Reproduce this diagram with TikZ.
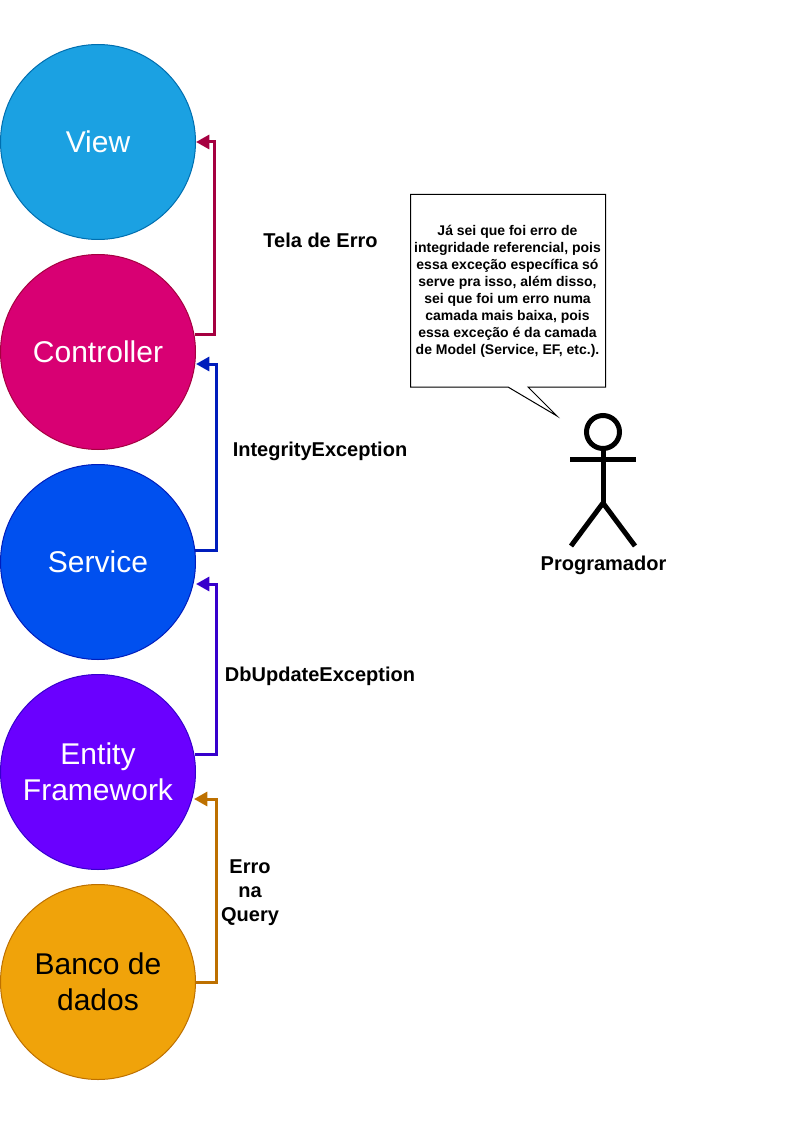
\documentclass[tikz,border=0pt]{standalone}
\usepackage{fontspec}
\setmainfont{Liberation Sans}
\usetikzlibrary{arrows.meta}
\definecolor{cView}{HTML}{1BA1E2}\definecolor{sView}{HTML}{006EAF}
\definecolor{cCtrl}{HTML}{D80073}\definecolor{sCtrl}{HTML}{A50040}
\definecolor{cServ}{HTML}{0050EF}\definecolor{sServ}{HTML}{001DBC}
\definecolor{cEf}{HTML}{6A00FF}\definecolor{sEf}{HTML}{3700CC}
\definecolor{cDb}{HTML}{F0A30A}\definecolor{sDb}{HTML}{BD7000}
\tikzset{
  layer/.style={circle,inner sep=0pt,minimum size=146.25pt,line width=0.75pt,align=center,
    font=\fontsize{22.5}{27}\selectfont},
  layertext/.style={inner sep=0pt,align=center,font=\fontsize{22.5}{27}\selectfont},
  conn/.style={line width=2.25pt,-{Triangle[length=10pt,width=10.5pt]},line join=miter},
  lbl/.style={font=\fontsize{15}{18}\selectfont\bfseries,align=center,inner sep=0pt},
  actorline/.style={line width=3.75pt,black},
}
\begin{document}
\begin{tikzpicture}[x=0.75pt,y=-0.75pt]
\useasboundingbox (0,0) rectangle (811,1134);
\node[layer,fill=cView,draw=sView,text=white] (view) at (98,142) {\raisebox{-0.75pt}{View}};
\node[layer,fill=cCtrl,draw=sCtrl,text=white] (ctrl) at (98,352) {\raisebox{-0.75pt}{Controller}};
\node[layer,fill=cServ,draw=sServ,text=white] (serv) at (98,562) {\raisebox{-0.75pt}{Service}};
\node[layer,fill=cEf,draw=sEf,text=white] (ef) at (98,772) {Entity\\Framework};
\node[layer,fill=cDb,draw=sDb,text=black] (db) at (98,982) {Banco de\\dados};
\coordinate (tipview) at (196,142);
\coordinate (tipctrl) at (196,364);
\coordinate (tipserv) at (196,584);
\coordinate (tipef) at (194,799);
\coordinate (xa) at (214.5,0);
\coordinate (xb) at (216,0);
\draw[conn,draw=sCtrl] (ctrl.10) -- (xa |- ctrl.10) -- (xa |- tipview) -- (tipview);
\draw[conn,draw=sServ] (serv.7) -- (xb |- serv.7) -- (xb |- tipctrl) -- (tipctrl);
\draw[conn,draw=sEf] (ef.10.6) -- (xb |- ef.10.6) -- (xb |- tipserv) -- (tipserv);
\draw[conn,draw=sDb] (db.east) -- (xb |- db.east) -- (xb |- tipef) -- (tipef);
\node[lbl] (l1) at (320.5,240) {Tela de Erro};
\node[lbl] (l2) at (320,451) {IntegrityException};
\node[lbl] (l3) at (320,676) {DbUpdateException};
\node[lbl] (l4) at (250,893) {Erro\\na\\Query};
% speech bubble
\draw[black,line width=0.75pt,fill=white,line join=miter]
  (410.5,194.5) -- (605.5,194.5) -- (605.5,387) -- (528,387) -- (557,416) -- (508,387) -- (410.5,387) -- cycle;
\node[font=\fontsize{10.5}{12.75}\selectfont\bfseries,align=center,inner sep=0pt] (say) at (507.5,291)
  {Já sei que foi erro de\\integridade referencial, pois\\essa exceção específica só\\serve pra isso, além disso,\\sei que foi um erro numa\\camada mais baixa, pois\\essa exceção é da camada\\de Model (Service, EF, etc.).};
% actor
\draw[actorline] (603,432) circle (16.5);
\draw[actorline] (603,450) -- (603,503);
\draw[actorline] (570,459) -- (636,459);
\draw[actorline] (571,546) -- (603,503) -- (635,546);
\node[lbl] (prog) at (603.5,565) {Programador};
\end{tikzpicture}
\end{document}
